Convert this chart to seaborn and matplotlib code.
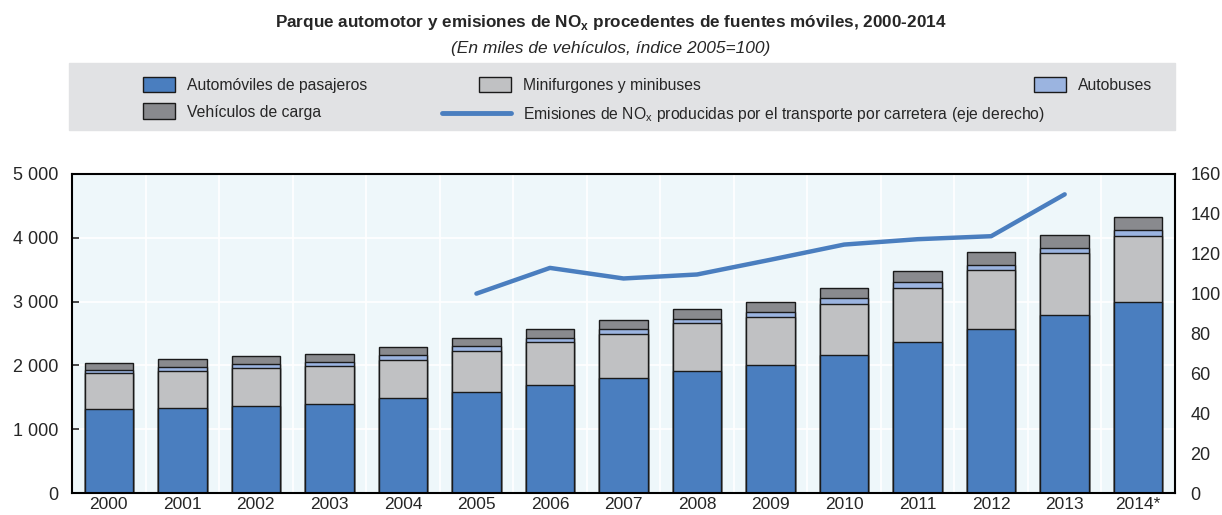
import numpy as np
import pandas as pd
import matplotlib
matplotlib.use('Agg')
import matplotlib.pyplot as plt
import seaborn as sns
from matplotlib.patches import Patch, Rectangle
from matplotlib.lines import Line2D
from matplotlib.legend_handler import HandlerPatch
from matplotlib.ticker import FuncFormatter, FixedLocator

# data (thousands of vehicles; index 2005=100)
years = ['2000', '2001', '2002', '2003', '2004', '2005', '2006', '2007',
         '2008', '2009', '2010', '2011', '2012', '2013', '2014*']
pasajeros = [1320, 1340, 1360, 1395, 1487, 1590, 1700, 1800, 1920, 2000, 2170, 2360, 2575, 2785, 2990]
minibuses = [560, 580, 600, 600, 600, 635, 660, 700, 740, 755, 800, 855, 915, 970, 1035]
autobuses = [45, 55, 60, 65, 70, 75, 70, 70, 70, 80, 80, 85, 85, 85, 90]
carga = [115, 130, 125, 125, 130, 130, 140, 145, 155, 160, 170, 180, 200, 205, 210]
nox_years = ['2005', '2006', '2007', '2008', '2009', '2010', '2011', '2012', '2013']
nox = [100, 112.9, 107.6, 109.6, 117, 124.6, 127.3, 128.8, 149.8]

c_pas = '#4A7EBF'
c_min = '#C0C1C3'
c_bus = '#9BB4E0'
c_car = '#898A8E'
edge = '#1a1a1a'

sns.set_style('white')
plt.rcParams['font.family'] = ['Liberation Sans', 'DejaVu Sans']
plt.rcParams['mathtext.fontset'] = 'custom'
plt.rcParams['mathtext.rm'] = 'Liberation Sans'

df = pd.DataFrame({'year': years, 'pas': pasajeros, 'min': minibuses,
                   'bus': autobuses, 'car': carga})
df['l1'] = df['pas']
df['l2'] = df['l1'] + df['min']
df['l3'] = df['l2'] + df['bus']
df['l4'] = df['l3'] + df['car']

W, H = 1222, 515
fig = plt.figure(figsize=(W / 100, H / 100), dpi=100)
ax = fig.add_axes([72 / W, 22 / H, (1175 - 72) / W, (493 - 174) / H])
ax.set_facecolor('#EEF7FA')

# stacked bars drawn as overlapping cumulative totals
for col, color in [('l4', c_car), ('l3', c_bus), ('l2', c_min), ('l1', c_pas)]:
    sns.barplot(data=df, x='year', y=col, color=color, width=0.66,
                edgecolor=edge, linewidth=1.0, saturation=1, ax=ax)

ax.set_ylim(0, 5000)
ax.set_xlim(-0.5, len(years) - 0.5)
ax.set_xlabel('')
ax.set_ylabel('')
ax.set_yticks([0, 1000, 2000, 3000, 4000, 5000])
ax.yaxis.set_major_formatter(FuncFormatter(lambda v, p: f'{int(v):,}'.replace(',', ' ')))
ax.xaxis.set_minor_locator(FixedLocator(np.arange(0.5, len(years) - 0.5, 1)))
ax.grid(False)
for v in [1000, 2000, 3000, 4000]:
    ax.axhline(v, color='white', lw=1.2, zorder=0.5)
for v in np.arange(0.5, len(years) - 0.5, 1):
    ax.axvline(v, color='white', lw=1.2, zorder=0.5)
ax.tick_params(axis='x', which='major', length=0, labelsize=12.5, pad=3)
ax.tick_params(axis='x', which='minor', direction='in', length=5, width=1.2, color='black')
ax.tick_params(axis='y', direction='in', length=5, width=1.2, labelsize=13, pad=10)
for s in ax.spines.values():
    s.set_color('black')
    s.set_linewidth(1.5)

ax2 = ax.twinx()
pos = [years.index(y) for y in nox_years]
sns.lineplot(x=pos, y=nox, color=c_pas, lw=3.2, ax=ax2)
ax2.set_ylim(0, 160)
ax2.set_yticks(range(0, 161, 20))
ax2.tick_params(axis='y', length=0, labelsize=13, pad=11)
ax2.set_xlim(-0.5, len(years) - 0.5)
for s in ax2.spines.values():
    s.set_visible(False)

# titles
fig.text(0.5, 1 - 22 / H, 'Parque automotor y emisiones de NO$_\\mathregular{x}$ procedentes de fuentes móviles, 2000-2014',
         ha='center', va='center', fontsize=12.3, fontweight='bold')
fig.text(0.5, 1 - 48 / H, '(En miles de vehículos, índice 2005=100)',
         ha='center', va='center', fontsize=12.5, style='italic')

# legend band
fig.patches.append(Rectangle((69 / W, 1 - 130 / H), (1175 - 69) / W, 67 / H,
                             transform=fig.transFigure, color='#E1E2E4', zorder=0))


def small_box(legend, orig_handle, xdescent, ydescent, width, height, fontsize):
    pw = 32 * 72 / 100
    return Rectangle((-xdescent + width - pw, -ydescent - 1), pw, height + 2)


fs = 11.3
fpx = fs * 100 / 72
kw = dict(loc='upper left', frameon=False, prop={'size': fs}, borderpad=0,
          borderaxespad=0, handleheight=0.9, labelspacing=0.75, handletextpad=0.75,
          handler_map={Patch: HandlerPatch(patch_func=small_box)})
top = 1 - 78 / H
leg1 = fig.legend(handles=[
    Patch(facecolor=c_pas, edgecolor=edge, label='Automóviles de pasajeros'),
    Patch(facecolor=c_car, edgecolor=edge, label='Vehículos de carga')],
    bbox_to_anchor=(143 / W, top), handlelength=32 / fpx, **kw)
leg2 = fig.legend(handles=[
    Patch(facecolor=c_min, edgecolor=edge, label='Minifurgones y minibuses'),
    Line2D([], [], color=c_pas, lw=3.5,
           label='Emisiones de NO$_\\mathregular{x}$ producidas por el transporte por carretera (eje derecho)')],
    bbox_to_anchor=(442 / W, top), handlelength=69 / fpx, **kw)
leg3 = fig.legend(handles=[
    Patch(facecolor=c_bus, edgecolor=edge, label='Autobuses')],
    bbox_to_anchor=(1034 / W, top), handlelength=32 / fpx, **kw)

fig.savefig('out.png', dpi=100)
